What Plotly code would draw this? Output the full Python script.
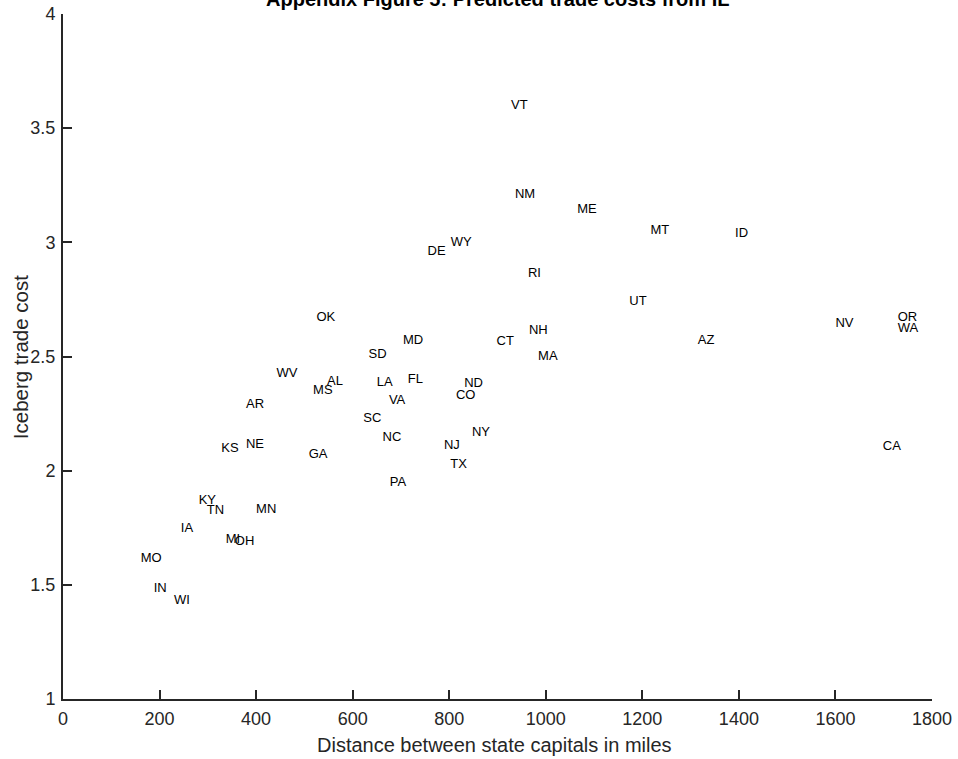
import plotly.graph_objects as go

# Predicted iceberg trade costs from Illinois to each state
states = ["VT", "NM", "ME", "MT", "ID", "WY", "DE", "RI", "UT", "OK",
          "NV", "OR", "WA", "NH", "MD", "CT", "AZ", "SD", "MA", "WV",
          "FL", "AL", "LA", "ND", "MS", "CO", "VA", "AR", "SC", "NY",
          "NC", "NE", "NJ", "CA", "KS", "GA", "TX", "PA", "KY", "TN",
          "MN", "IA", "MI", "OH", "MO", "IN", "WI"]

distance_miles = [928, 936, 1065, 1217, 1392, 803, 755, 963, 1173, 525,
                  1600, 1729, 1729, 965, 704, 898, 1315, 633, 984, 442,
                  714, 547, 650, 831, 518, 814, 675, 379, 622, 847,
                  662, 379, 789, 1698, 328, 509, 802, 677, 281, 298,
                  400, 244, 337, 356, 161, 188, 230]

trade_cost = [3.598, 3.207, 3.141, 3.049, 3.036, 2.997, 2.957, 2.861, 2.739, 2.669,
              2.642, 2.669, 2.623, 2.612, 2.570, 2.563, 2.569, 2.509, 2.497, 2.423,
              2.397, 2.389, 2.385, 2.379, 2.350, 2.326, 2.306, 2.287, 2.227, 2.164,
              2.144, 2.114, 2.109, 2.104, 2.094, 2.068, 2.024, 1.947, 1.869, 1.824,
              1.830, 1.747, 1.697, 1.688, 1.614, 1.483, 1.430]

x_ticks = [0, 200, 400, 600, 800, 1000, 1200, 1400, 1600, 1800]
y_ticks = [1, 1.5, 2, 2.5, 3, 3.5, 4]

title_text = "Appendix Figure 5: Predicted trade costs from IL"
x_title = "Distance between state capitals in miles"
y_title = "Iceberg trade cost"

FONT = "Liberation Sans, Arial, Helvetica, sans-serif"
AXIS_COLOR = "#262626"

fig = go.Figure()
fig.add_trace(go.Scatter(
    x=distance_miles,
    y=trade_cost,
    text=states,
    mode="text",
    textposition="middle right",
    textfont=dict(family=FONT, size=13, color="#000000"),
    hoverinfo="text+x+y",
    showlegend=False,
))

axis_common = dict(
    showline=True,
    linecolor=AXIS_COLOR,
    linewidth=2,
    ticks="inside",
    ticklen=9,
    tickwidth=1.5,
    tickcolor=AXIS_COLOR,
    showgrid=False,
    zeroline=False,
    mirror=False,
    automargin=False,
    tickfont=dict(family=FONT, size=18, color=AXIS_COLOR),
)

fig.update_layout(
    width=958,
    height=759,
    margin=dict(l=63, r=26, t=14, b=60, autoexpand=False),
    paper_bgcolor="white",
    plot_bgcolor="white",
    xaxis=dict(range=[0, 1800], tickvals=x_ticks, ticklabelstandoff=2, **axis_common),
    yaxis=dict(range=[1, 4], tickvals=y_ticks, ticklabelstandoff=2, **axis_common),
    annotations=[
        dict(text="<b>" + title_text + "</b>", xref="paper", yref="paper",
             x=0.5, y=1.0 + 15 / 685, xanchor="center", yanchor="middle",
             showarrow=False, font=dict(family=FONT, size=20, color="#000000")),
        dict(text=x_title, xref="paper", yref="paper",
             x=0.497, y=-46 / 685, xanchor="center", yanchor="middle",
             showarrow=False, font=dict(family=FONT, size=20, color=AXIS_COLOR)),
        dict(text=y_title, xref="paper", yref="paper",
             x=-43 / 869, y=0.499, xanchor="center", yanchor="middle", textangle=-90,
             showarrow=False, font=dict(family=FONT, size=20.5, color=AXIS_COLOR)),
    ],
)

fig.write_html("out.html")
